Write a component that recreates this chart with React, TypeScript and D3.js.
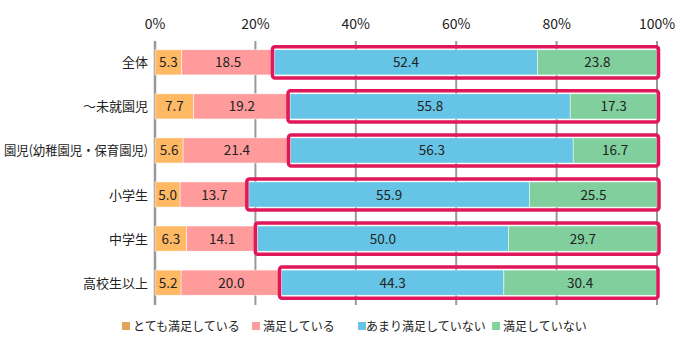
import React, { useRef, useEffect } from 'react';
import * as d3 from 'd3';

const categories = ['全体', '～未就園児', '園児(幼稚園児・保育園児)', '小学生', '中学生', '高校生以上'];
const seriesNames = ['とても満足している', '満足している', 'あまり満足していない', '満足していない'];
const verySatisfied = [5.3, 7.7, 5.6, 5.0, 6.3, 5.2];
const satisfied = [18.5, 19.2, 21.4, 13.7, 14.1, 20.0];
const notVery = [52.4, 55.8, 56.3, 55.9, 50.0, 44.3];
const notSatisfied = [23.8, 17.3, 16.7, 25.5, 29.7, 30.4];
const tickValues = [0, 20, 40, 60, 80, 100];

const barColors = ['#ffb964', '#ff9b9b', '#66c4e6', '#80cf9d'];
const legendColors = ['#e3a35b', '#ff9d9d', '#66c4e6', '#84d39b'];
const font = '"Noto Sans CJK JP", "Noto Sans", sans-serif';

const App: React.FC = () => {
  const svgRef = useRef<SVGSVGElement>(null);

  useEffect(() => {
    const svg = d3.select(svgRef.current);
    svg.selectAll('*').remove();

    const x = d3.scaleLinear().domain([0, 100]).range([155, 657]);
    const y = d3.scaleBand<string>().domain(categories).range([41, 304]).paddingInner(0.43).paddingOuter(0.2);
    const series = [verySatisfied, satisfied, notVery, notSatisfied];

    // grid
    svg.append('g')
      .selectAll('line')
      .data(tickValues)
      .join('line')
      .attr('x1', d => x(d))
      .attr('x2', d => x(d))
      .attr('y1', 41)
      .attr('y2', 305)
      .attr('stroke', '#999')
      .attr('stroke-width', d => (d === 0 ? 2.5 : 2));

    svg.append('g')
      .selectAll('text')
      .data(tickValues)
      .join('text')
      .attr('x', d => x(d))
      .attr('y', 29)
      .attr('text-anchor', 'middle')
      .attr('font-size', 14)
      .attr('font-family', font)
      .attr('fill', '#222')
      .text(d => `${d}%`);

    categories.forEach((cat, i) => {
      let acc = 0;
      const y0 = y(cat) as number;
      const h = y.bandwidth();
      const starts: number[] = [];
      series.forEach((s, j) => {
        const v = s[i];
        starts.push(acc);
        svg.append('rect')
          .attr('x', x(acc))
          .attr('y', y0)
          .attr('width', x(acc + v) - x(acc))
          .attr('height', h)
          .attr('fill', barColors[j])
          .attr('stroke', '#fff')
          .attr('stroke-width', 0.5);
        svg.append('text')
          .attr('x', x(acc + v / 2))
          .attr('y', y0 + h / 2 + 5)
          .attr('text-anchor', 'middle')
          .attr('font-size', 13.5)
          .attr('font-family', font)
          .attr('fill', '#222')
          .text(v.toFixed(1));
        acc += v;
      });
      // red outline around the unsatisfied part
      svg.append('rect')
        .attr('x', x(starts[2]) - 2)
        .attr('y', y0 - 3)
        .attr('width', x(acc) - x(starts[2]) + 3.5)
        .attr('height', h + 6)
        .attr('rx', 2.5)
        .attr('fill', 'none')
        .attr('stroke', '#e0185a')
        .attr('stroke-width', 3.5);

      const label = svg.append('text')
        .attr('x', 148)
        .attr('y', y0 + h / 2 + 5)
        .attr('text-anchor', 'end')
        .attr('font-size', 13)
        .attr('font-family', font)
        .attr('fill', '#222')
        .text(cat);
      if (cat.length > 10) {
        label.attr('textLength', 144).attr('lengthAdjust', 'spacingAndGlyphs');
      }
    });

    // legend
    const legendX = [122, 252, 358, 492];
    const legend = svg.append('g');
    seriesNames.forEach((name, i) => {
      legend.append('rect')
        .attr('x', legendX[i])
        .attr('y', 322)
        .attr('width', 8)
        .attr('height', 8)
        .attr('fill', legendColors[i]);
      legend.append('text')
        .attr('x', legendX[i] + (i === 2 ? 8 : 11))
        .attr('y', 331)
        .attr('font-size', 12)
        .attr('font-family', font)
        .attr('fill', '#222')
        .text(name);
    });
  }, []);

  return (
    <div style={{ position: 'absolute', left: 0, top: 0 }}>
      <svg ref={svgRef} width={700} height={350} style={{ display: 'block', background: '#fff' }} />
    </div>
  );
};

export default App;
